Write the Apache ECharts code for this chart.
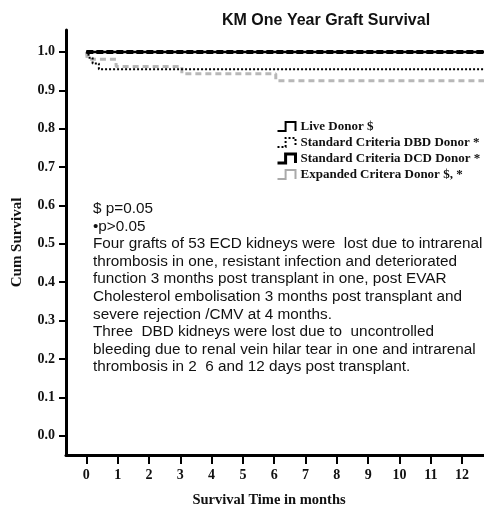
<!DOCTYPE html>
<html>
<head>
<meta charset="utf-8">
<script src="https://cdn.jsdelivr.net/npm/echarts@6/dist/echarts.min.js"></script>
<style>
  html, body { margin: 0; padding: 0; background: #fff; }
  #chart { width: 484px; height: 507px; }
</style>
</head>
<body>
<div id="chart"></div>
<script>
// tick labels
const monthTicks = [0, 1, 2, 3, 4, 5, 6, 7, 8, 9, 10, 11, 12];
const survivalTicks = [0, 0.1, 0.2, 0.3, 0.4, 0.5, 0.6, 0.7, 0.8, 0.9, 1.0];

// KM steps: [month, cum survival]
const liveDonor = [[0, 1], [12.7, 1]];
const dbdDonor = [[0, 1], [0.07, 0.985], [0.2, 0.97], [0.4, 0.955], [12.7, 0.955]];
const dcdDonor = [[0, 1], [12.7, 1]];
const ecdDonor = [[0, 1], [0.03, 0.981], [0.95, 0.962], [3.05, 0.943], [6.05, 0.925], [12.7, 0.925]];

const seriesNames = ['Live Donor $', 'Standard Criteria DBD Donor *', 'Standard Criteria DCD Donor *', 'Expanded Critera Donor $, *'];

const noteLines = [
  '$ p=0.05',
  '\u2022p>0.05',
  'Four grafts of 53 ECD kidneys were  lost due to intrarenal',
  'thrombosis in one, resistant infection and deteriorated',
  'function 3 months post transplant in one, post EVAR',
  'Cholesterol embolisation 3 months post transplant and',
  'severe rejection /CMV at 4 months.',
  'Three  DBD kidneys were lost due to  uncontrolled',
  'bleeding due to renal vein hilar tear in one and intrarenal',
  'thrombosis in 2  6 and 12 days post transplant.'
];

const serif = '"Liberation Serif", "DejaVu Serif", serif';
const stepIcon = 'path://M0,12 L9,12 L9,2 L20,2 L20,12';

let chart = echarts.init(document.getElementById('chart'));

function legendItem(name, color, width, type) {
  return {
    name: name,
    icon: stepIcon,
    itemStyle: { color: 'rgba(0,0,0,0)', borderColor: color, borderWidth: width, borderType: type }
  };
}

let option = {
  animation: false,
  title: {
    text: 'KM One Year Graft Survival',
    left: 217,
    top: 8,
    textStyle: { fontFamily: 'Arial, "Liberation Sans", sans-serif', fontSize: 16, fontWeight: 'bold', color: '#111' }
  },
  legend: {
    orient: 'vertical',
    left: 271,
    top: 115,
    itemWidth: 22,
    itemHeight: 9,
    itemGap: 3,
    textStyle: { fontFamily: serif, fontSize: 13, fontWeight: 'bold', color: '#111', padding: [0, 0, 0, -2] },
    data: [
      legendItem(seriesNames[0], '#000', 2, 'solid'),
      legendItem(seriesNames[1], '#000', 2, 'dotted'),
      legendItem(seriesNames[2], '#000', 3, 'solid'),
      legendItem(seriesNames[3], '#aaa', 2, 'solid')
    ]
  },
  grid: { left: 66, right: 0, top: 30, bottom: 52, containLabel: false, outerBoundsMode: 'none' },
  xAxis: {
    type: 'value',
    min: -0.65,
    max: 12.7,
    name: 'Survival Time in months',
    nameLocation: 'middle',
    nameGap: 38,
    nameTextStyle: { fontFamily: serif, fontSize: 14.5, fontWeight: 'bold', color: '#111', padding: [0, 12, 0, 0] },
    splitLine: { show: false },
    axisLine: { show: true, onZero: false, lineStyle: { color: '#000', width: 3 } },
    axisTick: { show: true, length: 9, customValues: monthTicks, lineStyle: { color: '#000', width: 2 } },
    axisLabel: { customValues: monthTicks, margin: 13, fontFamily: serif, fontSize: 14, fontWeight: 'bold', color: '#111' }
  },
  yAxis: {
    type: 'value',
    min: -0.05,
    max: 1.057,
    name: 'Cum Survival',
    nameLocation: 'middle',
    nameGap: 41,
    nameTextStyle: { fontFamily: serif, fontSize: 15, fontWeight: 'bold', color: '#111' },
    splitLine: { show: false },
    axisLine: { show: true, onZero: false, lineStyle: { color: '#000', width: 3 } },
    axisTick: { show: true, length: 7, customValues: survivalTicks, lineStyle: { color: '#000', width: 2 } },
    axisLabel: {
      customValues: survivalTicks, margin: 11, fontFamily: serif, fontSize: 14, fontWeight: 'bold', color: '#111',
      formatter: v => v.toFixed(1)
    }
  },
  graphic: [{
    type: 'text',
    left: 93,
    top: 200,
    style: {
      text: noteLines.join('\n'),
      font: '15.3px Arial, "Liberation Sans", sans-serif',
      lineHeight: 17.6,
      fill: '#111'
    }
  }],
  series: [
    {
      name: seriesNames[3], type: 'line', step: 'end', data: ecdDonor, showSymbol: false,
      lineStyle: { color: '#b8b8b8', width: 3, type: [6, 4] }, itemStyle: { color: '#aaa' }
    },
    {
      name: seriesNames[1], type: 'line', step: 'end', data: dbdDonor, showSymbol: false,
      lineStyle: { color: '#000', width: 2, type: [2, 2] }, itemStyle: { color: '#000' }
    },
    {
      name: seriesNames[0], type: 'line', step: 'end', data: liveDonor, showSymbol: false,
      lineStyle: { color: '#000', width: 2.5 }, itemStyle: { color: '#000' }
    },
    {
      name: seriesNames[2], type: 'line', step: 'end', data: dcdDonor, showSymbol: false,
      lineStyle: { color: '#000', width: 4, type: [7, 3] }, itemStyle: { color: '#000' }
    }
  ]
};

chart.setOption(option);
window.addEventListener('resize', () => {
  chart.resize();
});
</script>
</body>
</html>
